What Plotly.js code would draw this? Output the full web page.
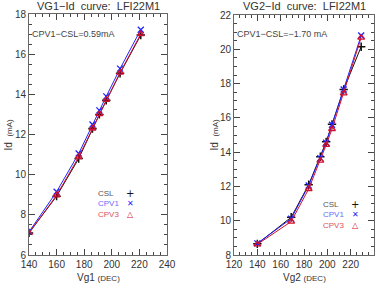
<!DOCTYPE html>
<html><head><meta charset="utf-8">
<script src="https://cdn.plot.ly/plotly-3.0.1.min.js"></script>
<style>html,body{margin:0;padding:0;background:#fff;}#c{width:382px;height:284px;}</style>
</head><body><div id="c"></div>
<script>
// Left panel: VG1 sweep
const vg1 = [140, 160, 176, 186, 191, 196, 206, 221];
const csl1 = [7.1, 8.93, 10.8, 12.3, 13.0, 13.7, 15.05, 16.95];
const cpv1_1 = [7.15, 9.15, 11.05, 12.5, 13.2, 13.9, 15.28, 17.22];
const cpv3_1 = [7.1, 8.97, 10.88, 12.3, 13.02, 13.72, 15.08, 17.0];
// Right panel: VG2 sweep
const vg2 = [140, 169, 184, 194, 199, 204, 214, 229];
const csl2 = [8.65, 10.2, 12.1, 13.73, 14.6, 15.62, 17.65, 20.15];
const cpv1_2 = [8.68, 10.12, 12.05, 13.65, 14.55, 15.6, 17.65, 20.8];
const cpv3_2 = [8.62, 9.95, 11.85, 13.5, 14.42, 15.35, 17.43, 20.68];

const seriesNames = ["CSL", "CPV1", "CPV3"];
const titles = ["VG1\u2212Id  curve:  LFI22M1", "VG2\u2212Id  curve:  LFI22M1"];
const notes = ["CPV1\u2212CSL=0.59mA", "CPV1\u2212CSL=\u22121.70 mA"];
const xTitles = ["Vg1 <span style='font-size:8px'>(DEC)</span>", "Vg2 <span style='font-size:8px'>(DEC)</span>"];
const yTitle = "Id  <span style='font-size:8px'>(mA)</span>";

const colors = ["#111111", "#2222ff", "#d01030"];
const legendText = ["#555555", "#6a6aff", "#e05060"];
const symbols = ["cross-thin", "x-thin", "triangle-up-open"];
const legSyms = ["+", "\u2715", "\u25B3"];

function tr(x, y, i, ax) {
  return {x: x, y: y, type: "scatter", mode: "lines+markers", name: seriesNames[i],
    xaxis: ax[0], yaxis: ax[1], showlegend: false,
    line: {color: colors[i], width: 1},
    marker: {symbol: symbols[i], size: 6, color: colors[i],
      line: {color: colors[i], width: i === 0 ? 1.5 : 1.3}}};
}
const data = [
  tr(vg1, csl1, 0, ["x", "y"]), tr(vg1, cpv1_1, 1, ["x", "y"]), tr(vg1, cpv3_1, 2, ["x", "y"]),
  tr(vg2, csl2, 0, ["x2", "y2"]), tr(vg2, cpv1_2, 1, ["x2", "y2"]), tr(vg2, cpv3_2, 2, ["x2", "y2"])
];

const tf = {family: "Liberation Sans, Arial, sans-serif", size: 10, color: "#333"};
function axis(range, dtick, minorD, domain, anchor) {
  return {range: range, dtick: dtick, tick0: 0, domain: domain, anchor: anchor,
    showline: true, linecolor: "#666", linewidth: 1, mirror: "ticks",
    ticks: "inside", ticklen: 6, tickcolor: "#444", tickwidth: 1,
    minor: {ticks: "inside", dtick: minorD, tick0: 0, ticklen: 3, tickcolor: "#444", tickwidth: 1, showgrid: false},
    showgrid: false, zeroline: false, tickfont: tf};
}
const H = 284, W = 382;
const yd1 = [(H - 255) / H, (H - 14) / H];
const yd2 = [(H - 255) / H, (H - 15) / H];
const layout = {
  width: W, height: H, margin: {l: 0, r: 0, t: 0, b: 0},
  paper_bgcolor: "#fff", plot_bgcolor: "#fff", showlegend: false,
  xaxis: axis([140, 240], 20, 5, [29 / W, 167 / W], "y"),
  yaxis: axis([6, 18], 2, 0.5, yd1, "x"),
  xaxis2: axis([120, 240], 20, 5, [234 / W, 374 / W], "y2"),
  yaxis2: axis([8, 22], 2, 0.5, yd2, "x2"),
  annotations: []
};
const A = layout.annotations;
const F = "Liberation Sans, Arial, sans-serif";
function note(x, y, text, opts) {
  A.push(Object.assign({xref: "paper", yref: "paper", x: x / W, y: 1 - y / H, text: text,
    showarrow: false, xanchor: "center", yanchor: "middle"}, opts));
}
note(98, 6, titles[0], {font: {family: F, size: 11, color: "#333"}});
note(304, 6, titles[1], {font: {family: F, size: 11, color: "#333"}});
note(30, 34, notes[0], {xanchor: "left", font: {family: F, size: 9, color: "#444"}});
note(235, 34, notes[1], {xanchor: "left", font: {family: F, size: 9, color: "#444"}});
note(98, 277, xTitles[0], {font: {family: F, size: 10, color: "#333"}});
note(304, 277, xTitles[1], {font: {family: F, size: 10, color: "#333"}});
note(1, 135, yTitle, {xanchor: "left", textangle: -90, font: {family: F, size: 10, color: "#333"}});
note(207, 135, yTitle, {xanchor: "left", textangle: -90, font: {family: F, size: 10, color: "#333"}});
const legPos = [[96, 130, [193, 203.5, 214]], [321, 355, [204, 214, 225]]];
legPos.forEach(p => {
  for (let i = 0; i < 3; i++) {
    note(p[0], p[2][i], seriesNames[i], {xanchor: "left",
      font: {family: F, size: 8, color: legendText[i]}});
    note(p[1], p[2][i], legSyms[i], {
      font: {family: "DejaVu Sans", size: i === 0 ? 10 : 8, color: colors[i]}});
  }
});
Plotly.newPlot("c", data, layout, {staticPlot: true, displayModeBar: false});
</script></body></html>
